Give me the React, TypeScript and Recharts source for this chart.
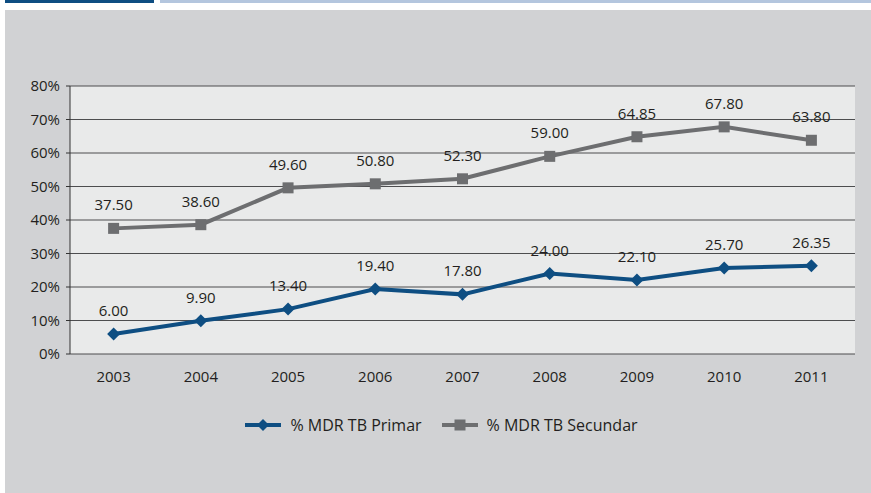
import React from "react";
import {
  LineChart,
  Line,
  XAxis,
  YAxis,
  CartesianGrid,
  Legend,
  LabelList,
} from "recharts";

// values
const years = ["2003", "2004", "2005", "2006", "2007", "2008", "2009", "2010", "2011"];
const primar = [6.0, 9.9, 13.4, 19.4, 17.8, 24.0, 22.1, 25.7, 26.35];
const secundar = [37.5, 38.6, 49.6, 50.8, 52.3, 59.0, 64.85, 67.8, 63.8];
const yTicks = [0, 10, 20, 30, 40, 50, 60, 70, 80];
const boundaryTicks = [0, 1, 2, 3, 4, 5, 6, 7, 8, 9];

const BLUE = "#0e4e82";
const GRAY = "#6d6e70";
const FONT = "'Open Sans', 'Noto Sans', sans-serif";

const data = years.map((y, i) => ({ year: y, primar: primar[i], secundar: secundar[i] }));

const Diamond = (props: any) => {
  const { cx, cy, fill } = props;
  if (cx == null || cy == null) return null;
  const r = 6.5;
  return (
    <polygon
      points={`${cx},${cy - r} ${cx + r},${cy} ${cx},${cy + r} ${cx - r},${cy}`}
      fill={fill}
    />
  );
};

const Square = (props: any) => {
  const { cx, cy, fill } = props;
  if (cx == null || cy == null) return null;
  const s = 11;
  return <rect x={cx - s / 2} y={cy - s / 2} width={s} height={s} fill={fill} />;
};

const LegendContent = () => {
  const items = [
    { name: "% MDR TB Primar", color: BLUE, shape: "diamond" },
    { name: "% MDR TB Secundar", color: GRAY, shape: "square" },
  ];
  return (
    <div
      style={{
        display: "flex",
        justifyContent: "center",
        alignItems: "center",
        height: 24,
        paddingLeft: 12,
        gap: 20,
      }}
    >
      {items.map((it) => (
        <div key={it.name} style={{ display: "flex", alignItems: "center" }}>
          <svg width={36} height={14} style={{ marginRight: 9 }}>
            <line x1={0} y1={7} x2={36} y2={7} stroke={it.color} strokeWidth={4} />
            {it.shape === "diamond" ? (
              <polygon points="18,1 24,7 18,13 12,7" fill={it.color} />
            ) : (
              <rect x={12.5} y={1.5} width={11} height={11} fill={it.color} />
            )}
          </svg>
          <span style={{ fontFamily: FONT, fontSize: 16, color: "#231f20" }}>{it.name}</span>
        </div>
      ))}
    </div>
  );
};

export default function App() {
  return (
    <div style={{ position: "absolute", left: 0, top: 0, width: 871, height: 493, background: "#fff" }}>
      <div style={{ position: "absolute", left: 5, top: 0, width: 149, height: 3, background: "#0e4e82" }} />
      <div style={{ position: "absolute", left: 160, top: 0, width: 711, height: 3, background: "#b4c6de" }} />
      <div style={{ position: "absolute", left: 5, top: 10, width: 866, height: 483, background: "#d1d2d4" }} />
      <div style={{ position: "absolute", left: 0, top: 0 }}>
        <LineChart
          width={871}
          height={493}
          data={data}
          margin={{ top: 86, right: 16, left: 10, bottom: 85 }}
        >
          <CartesianGrid
            xAxisId="cat"
            yAxisId="left"
            vertical={false}
            stroke="#4d4d4f"
            strokeWidth={1}
            fill="#e9eaea"
            fillOpacity={1}
          />
          <XAxis
            xAxisId="bounds"
            type="number"
            domain={[0, 9]}
            ticks={boundaryTicks}
            tick={false}
            tickSize={5}
            height={0}
            axisLine={{ stroke: "#333", strokeWidth: 1 }}
            tickLine={{ stroke: "#333" }}
          />
          <XAxis
            xAxisId="cat"
            dataKey="year"
            scale="band"
            height={30}
            axisLine={false}
            tickLine={false}
            tickMargin={11}
            tick={{ fontFamily: FONT, fontSize: 15, fill: "#231f20" }}
          />
          <YAxis
            yAxisId="left"
            domain={[0, 80]}
            ticks={yTicks}
            width={60}
            tickSize={4}
            tickMargin={6}
            tickFormatter={(v) => `${v}%`}
            axisLine={{ stroke: "#333" }}
            tickLine={{ stroke: "#333" }}
            tick={{ fontFamily: FONT, fontSize: 15, fill: "#231f20" }}
          />
          <YAxis
            yAxisId="right"
            orientation="right"
            width={0}
            domain={[0, 80]}
            tick={false}
            tickLine={false}
            axisLine={{ stroke: "#333" }}
          />
          <Line
            xAxisId="cat"
            yAxisId="left"
            dataKey="secundar"
            name="% MDR TB Secundar"
            stroke={GRAY}
            fill={GRAY}
            strokeWidth={4}
            dot={<Square />}
            isAnimationActive={false}
          >
            <LabelList
              dataKey="secundar"
              position="top"
              offset={18}
              formatter={(v: any) => Number(v).toFixed(2)}
              style={{ fontFamily: FONT, fontSize: 15, fill: "#231f20" }}
            />
          </Line>
          <Line
            xAxisId="cat"
            yAxisId="left"
            dataKey="primar"
            name="% MDR TB Primar"
            stroke={BLUE}
            fill={BLUE}
            strokeWidth={4}
            dot={<Diamond />}
            isAnimationActive={false}
          >
            <LabelList
              dataKey="primar"
              position="top"
              offset={18}
              formatter={(v: any) => Number(v).toFixed(2)}
              style={{ fontFamily: FONT, fontSize: 15, fill: "#231f20" }}
            />
          </Line>
          <Legend
            verticalAlign="bottom"
            height={24}
            content={<LegendContent />}
            wrapperStyle={{ top: 413, left: 0, width: 871 }}
          />
        </LineChart>
      </div>
    </div>
  );
}
